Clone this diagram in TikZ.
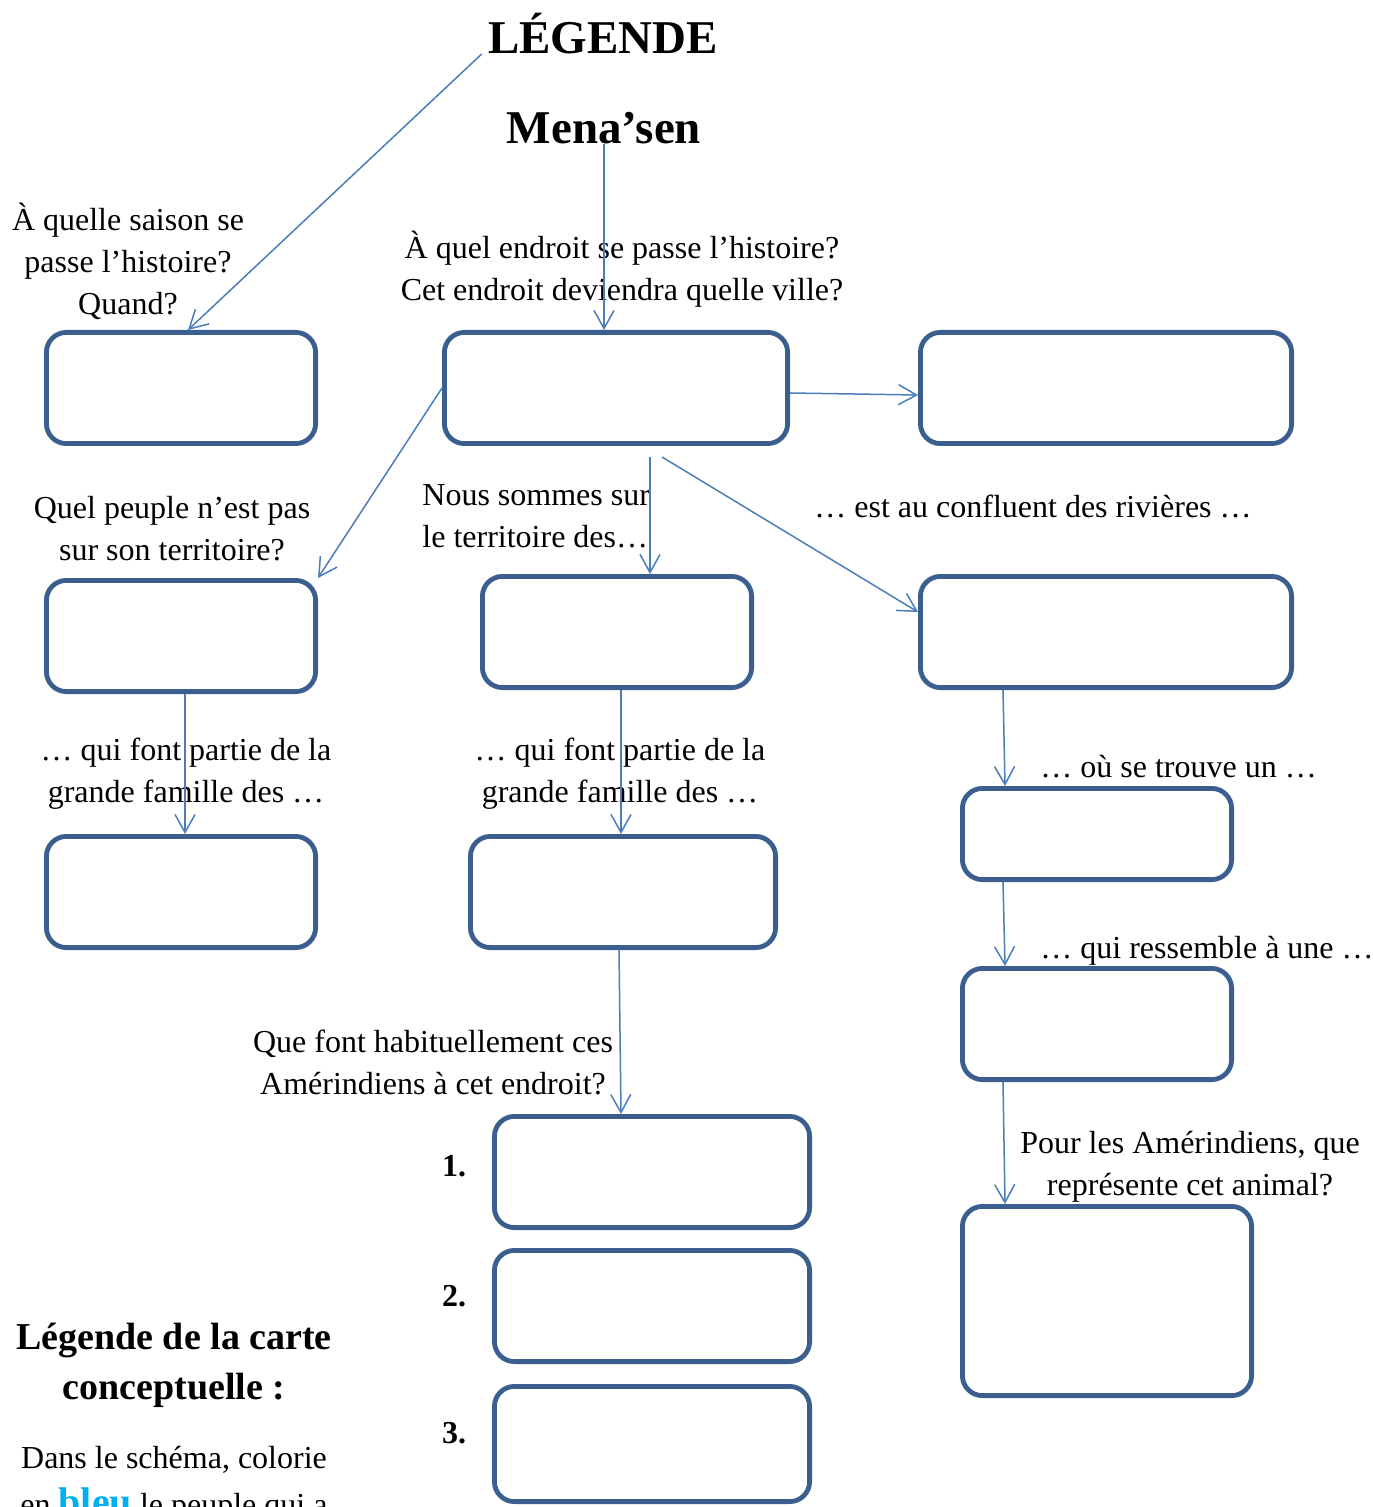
\documentclass[tikz,border=0pt]{standalone}
\usepackage{fontspec}
\setmainfont{Liberation Serif}
\usetikzlibrary{arrows.meta,positioning}
\definecolor{cadre}{HTML}{3A5F8E}
\definecolor{fleche}{HTML}{4A7EBB}
\definecolor{bleuvif}{HTML}{00B0F0}
\tikzset{%
  case/.style     = {draw=cadre, line width=2.4pt, rectangle, rounded corners=10pt,
    minimum width=134.6pt, minimum height=55.6pt},
  question/.style = {align=center, inner sep=0pt, font=\fontsize{16}{21}\selectfont}, % texte des questions
  titre/.style    = {inner sep=0pt, font=\fontsize{23.5}{28}\selectfont\bfseries},
  num/.style      = {inner sep=0pt, font=\fontsize{16}{21}\selectfont\bfseries},
  lien/.style     = {->, draw=fleche, line width=0.75pt}
}

\begin{document}
\begin{tikzpicture}[x=0.5pt, y=-0.5pt, >={Straight Barb[length=9pt,width=10pt]}]
\useasboundingbox (0,0) rectangle (1372,1507);
\draw
	node at(603,54)[titre, anchor=base, name=legende]{LÉGENDE}
	node at(604,144)[titre, anchor=base, name=mena]{Mena’sen};
% cases
\draw
	node at(181,388)[case, name=saison]{}
	node at(616,388)[case, minimum width=171.6pt, name=lieu]{}
	node at(1106,388)[case, minimum width=185.6pt, name=ville]{}
	node at(181,636)[case, name=peuple]{}
	node at(617,632)[case, name=nation]{}
	node at(1106,632)[case, minimum width=185.6pt, name=rivieres]{}
	node at(181,892)[case, name=famille]{}
	node at(623,892)[case, minimum width=152.6pt, name=grande]{}
	node at(1097,834)[case, minimum height=45.6pt, name=trouve]{}
	node at(1097,1024)[case, name=ressemble]{}
	node at(1107,1301)[case, minimum width=144.6pt, minimum height=94.6pt, name=animal]{}
	node at(652,1172)[case, minimum width=157.6pt, name=act1]{}
	node [case, minimum width=157.6pt, below=9pt of act1, name=act2]{}
	node [case, minimum width=157.6pt, minimum height=57.6pt, below=10pt of act2, name=act3]{};
% questions
\draw
	node at(128,261)[question]{À quelle saison se\\passe l’histoire?\\Quand?}
	node at(622,269)[question]{À quel endroit se passe l’histoire?\\Cet endroit deviendra quelle ville?}
	node at(172,529)[question]{Quel peuple n’est pas\\sur son territoire?}
	node at(422,516)[question, align=left, anchor=west]{Nous sommes sur\\le territoire des…}
	node at(1033,506)[question]{… est au confluent des rivières …}
	node at(186,774)[question]{… qui font partie de la\\grande famille des …}
	node at(620,774)[question]{… qui font partie de la\\grande famille des …}
	node at(1040,767)[question, anchor=west]{… où se trouve un …}
	node at(1040,951)[question, anchor=west]{… qui ressemble à une …}
	node at(433,1062)[question]{Que font habituellement ces\\Amérindiens à cet endroit?}
	node at(1190,1167)[question]{Pour les Amérindiens, que\\représente cet animal?}
	node at(454,1166)[num]{1.}
	node at(454,1296)[num]{2.}
	node at(454,1433)[num]{3.};
% legende de la carte
\draw
	node at(174,1365)[question, font=\fontsize{19}{25}\selectfont\bfseries]{Légende de la carte\\conceptuelle :}
	node at(174,1484)[question]{Dans le schéma, colorie\\[2.5pt]en {\color{bleuvif}\fontsize{20}{21}\selectfont\bfseries bleu} le peuple qui a};
% liens
\coordinate (d1) at (650,457);
\coordinate (d2) at (662,457);
\draw[lien]([xshift=-3pt]legende.base west) -- ([xshift=3.5pt]saison.north);
\draw[lien](mena.base) -- (mena.base |- lieu.north);
\draw[lien]([yshift=-2.5pt]lieu.east) -- ([yshift=-3.5pt]ville.west);
\draw[lien](lieu.west) -- (peuple.north east);
\draw[lien](d1) -- (d1 |- nation.north);
\draw[lien](d2) -- ([yshift=10pt]rivieres.west);
\draw[lien]([xshift=2pt]peuple.south) -- ([xshift=2pt]famille.north);
\draw[lien]([xshift=2pt]nation.south) -- ([xshift=-1pt]grande.north);
\draw[lien]([xshift=42.5pt]rivieres.south west) -- ([xshift=22.5pt]trouve.north west);
\draw[lien]([xshift=21.5pt]trouve.south west) -- ([xshift=22.5pt]ressemble.north west);
\draw[lien]([xshift=-2pt]grande.south) -- ([xshift=-15.5pt]act1.north);
\draw[lien]([xshift=21.5pt]ressemble.south west) -- ([xshift=22.5pt]animal.north west);
\end{tikzpicture}
\end{document}
